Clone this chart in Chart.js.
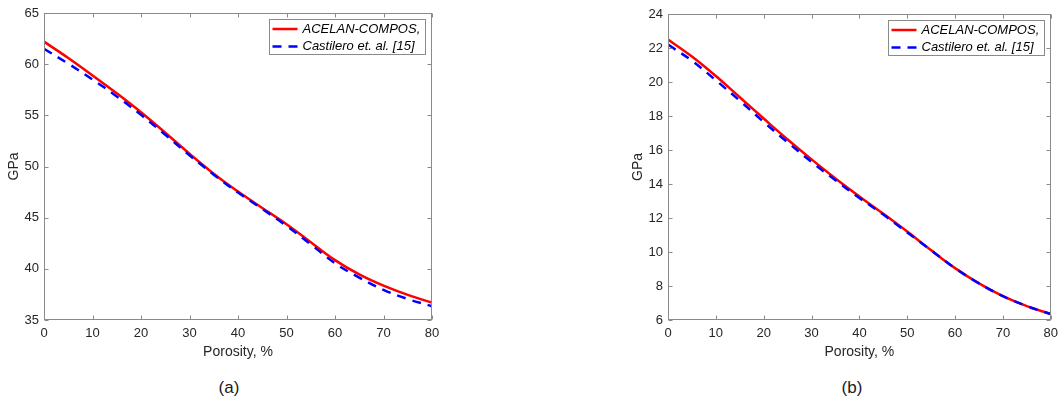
<!DOCTYPE html>
<html>
<head>
<meta charset="utf-8">
<script src="https://cdn.jsdelivr.net/npm/chart.js@4/dist/chart.umd.min.js"></script>
<style>
  body { margin: 0; background: #fff; width: 1064px; height: 403px; position: relative; overflow: hidden; font-family: 'Liberation Sans', Arial, sans-serif; }
  canvas { position: absolute; top: 0; }
  #chartA { left: 0; }
  #chartB { left: 624px; }
  .caption { position: absolute; top: 388px; font-size: 17px; color: #1a1a1a; transform: translate(-50%, -50%); white-space: nowrap; }
</style>
</head>
<body>
<canvas id="chartA" width="450" height="370"></canvas>
<canvas id="chartB" width="440" height="370"></canvas>
<div class="caption" style="left: 229px;">(a)</div>
<div class="caption" style="left: 852px;">(b)</div>
<script>
// porosity, %
const porosity = [0, 5, 10, 15, 20, 25, 30, 35, 40, 45, 50, 55, 60, 65, 70, 75, 80];

// (a)
const acelanA = [62.2, 60.6, 58.9, 57.15, 55.3, 53.3, 51.25, 49.3, 47.55, 45.95, 44.35, 42.6, 40.85, 39.45, 38.35, 37.45, 36.7];
const castileroA = [61.5, 60.05, 58.5, 56.85, 55.05, 53.1, 51.1, 49.2, 47.45, 45.85, 44.2, 42.4, 40.55, 39.15, 37.95, 37.05, 36.35];

// (b)
const acelanB = [22.5, 21.5, 20.35, 19.1, 17.85, 16.62, 15.45, 14.33, 13.27, 12.25, 11.2, 10.1, 9.05, 8.15, 7.4, 6.82, 6.35];
const castileroB = [22.2, 21.25, 20.1, 18.9, 17.65, 16.45, 15.3, 14.22, 13.18, 12.2, 11.15, 10.1, 9.05, 8.15, 7.4, 6.82, 6.35];

const seriesNames = ['ACELAN-COMPOS,', 'Castilero et. al. [15]'];
const xTitle = 'Porosity, %';
const yTitle = 'GPa';

const axisColor = '#8a8a8a';
const textColor = '#262626';
const fontFamily = "'Liberation Sans', Arial, sans-serif";

function points(vals) {
  return porosity.map((p, i) => ({ x: p, y: vals[i] }));
}

// box, inner ticks and legend like the original figure
const boxPlugin = {
  id: 'matlabBox',
  afterDraw(chart) {
    const { ctx, chartArea: a, scales: { x, y } } = chart;
    const L = Math.round(a.left) + 0.5, R = Math.round(a.right) - 0.5;
    const T = Math.round(a.top) + 0.5, B = Math.round(a.bottom) - 0.5;
    ctx.save();
    ctx.strokeStyle = axisColor;
    ctx.lineWidth = 1;
    ctx.beginPath();
    x.ticks.forEach(t => {
      const px = Math.round(x.getPixelForValue(t.value)) + 0.5;
      ctx.moveTo(px, B); ctx.lineTo(px, B - 4);
      ctx.moveTo(px, T); ctx.lineTo(px, T + 4);
    });
    y.ticks.forEach(t => {
      const py = Math.round(y.getPixelForValue(t.value)) + 0.5;
      ctx.moveTo(L, py); ctx.lineTo(L + 4, py);
      ctx.moveTo(R, py); ctx.lineTo(R - 4, py);
    });
    ctx.stroke();
    ctx.strokeRect(L, T, R - L, B - T);

    // legend
    const w = 156, h = 35;
    const lx = Math.round(a.right - 7 - w) + 0.5, ly = Math.round(a.top + 6) + 0.5;
    ctx.fillStyle = '#fff';
    ctx.fillRect(lx, ly, w, h);
    ctx.strokeStyle = axisColor;
    ctx.strokeRect(lx, ly, w, h);
    ctx.font = 'italic 13px ' + fontFamily;
    ctx.textBaseline = 'middle';
    chart.data.datasets.forEach((ds, i) => {
      const ry = ly + 9.5 + i * 17.5;
      ctx.strokeStyle = ds.borderColor;
      ctx.lineWidth = ds.borderWidth;
      ctx.setLineDash(ds.borderDash || []);
      ctx.beginPath();
      ctx.moveTo(lx + 3, ry); ctx.lineTo(lx + 28, ry);
      ctx.stroke();
      ctx.setLineDash([]);
      ctx.fillStyle = '#000';
      ctx.fillText(ds.label, lx + 33, ry);
    });
    ctx.restore();
  }
};

function makeChart(id, red, blue, yMin, yMax, yStep, pad) {
  new Chart(document.getElementById(id), {
    type: 'line',
    data: {
      datasets: [{
        label: seriesNames[0],
        data: points(red),
        borderColor: '#ff0000',
        borderWidth: 2.5,
        pointRadius: 0,
        tension: 0.4,
        order: 2
      }, {
        label: seriesNames[1],
        data: points(blue),
        borderColor: '#0000ff',
        borderWidth: 2.5,
        borderDash: [9, 7],
        pointRadius: 0,
        tension: 0.4,
        order: 1
      }]
    },
    options: {
      responsive: false,
      animation: false,
      layout: { padding: pad },
      plugins: { legend: { display: false }, tooltip: { enabled: false } },
      scales: {
        x: {
          type: 'linear',
          min: 0, max: 80,
          grid: { display: false, drawTicks: false },
          border: { display: false },
          ticks: { stepSize: 10, padding: 6, color: textColor, font: { family: fontFamily, size: 13 } },
          title: { display: true, text: xTitle, color: textColor, font: { family: fontFamily, size: 14 }, padding: { top: 0, bottom: 9 } },
          afterFit: s => { s.height = 50; }
        },
        y: {
          min: yMin, max: yMax,
          grid: { display: false, drawTicks: false },
          border: { display: false },
          ticks: { stepSize: yStep, padding: 5, color: textColor, font: { family: fontFamily, size: 13 } },
          title: { display: true, text: yTitle, color: textColor, font: { family: fontFamily, size: 14 }, padding: { top: 6, bottom: 0 } },
          afterFit: s => { s.width = 44; }
        }
      }
    },
    plugins: [boxPlugin]
  });
}

makeChart('chartA', acelanA, castileroA, 35, 65, 5, { top: 13, right: 18, left: 0, bottom: 0 });
makeChart('chartB', acelanB, castileroB, 6, 24, 2, { top: 14, right: 9, left: 0, bottom: 0 });
</script>
</body>
</html>
